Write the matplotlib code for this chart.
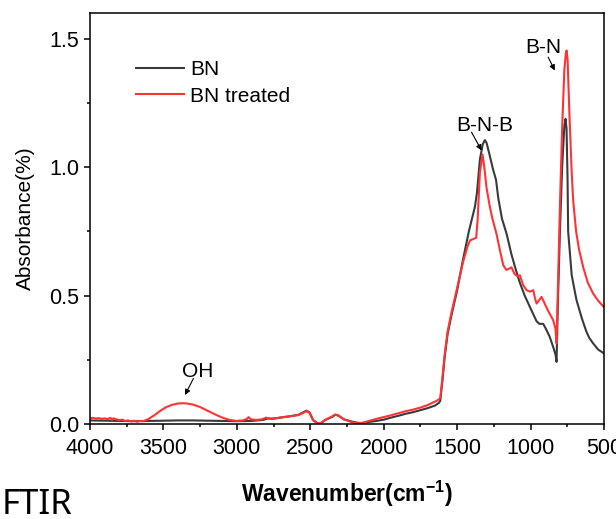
import matplotlib
matplotlib.use("Agg")
import matplotlib.pyplot as plt
from matplotlib.ticker import MultipleLocator

# ── FTIR spectra (wavenumber in cm-1, absorbance) ─────────────────────────────
wn_bn = [4000, 3900, 3800, 3700, 3600, 3500, 3400, 3300, 3200, 3100, 3000,
         2900, 2820, 2790, 2760, 2700, 2640, 2580, 2540, 2525, 2505, 2480,
         2450, 2430, 2400, 2350, 2330, 2310, 2270, 2220, 2180, 2150, 2100,
         2050, 2000, 1950, 1900, 1850, 1800, 1750, 1700, 1650, 1625, 1615,
         1600, 1585, 1565, 1540, 1500, 1460, 1420, 1390, 1379, 1365, 1345,
         1325, 1311, 1300, 1280, 1255, 1235, 1220, 1195, 1163, 1130, 1100,
         1073, 1040, 1000, 959, 940, 914, 895, 870, 846, 830, 823, 815, 800,
         785, 770, 762, 755, 748, 744, 720, 700, 687, 650, 620, 600, 574,
         540, 500]
abs_bn = [0.014, 0.013, 0.012, 0.011, 0.012, 0.013, 0.014, 0.014, 0.013,
          0.012, 0.011, 0.012, 0.016, 0.022, 0.020, 0.025, 0.030, 0.036,
          0.048, 0.052, 0.045, 0.015, 0.003, 0.002, 0.015, 0.028, 0.036,
          0.033, 0.018, 0.010, 0.005, 0.004, 0.008, 0.012, 0.017, 0.025,
          0.032, 0.040, 0.046, 0.054, 0.062, 0.072, 0.082, 0.090, 0.17,
          0.26, 0.35, 0.42, 0.52, 0.64, 0.75, 0.82, 0.845, 0.90, 1.03, 1.09,
          1.105, 1.095, 1.05, 0.99, 0.95, 0.88, 0.80, 0.74, 0.66, 0.60, 0.55,
          0.50, 0.45, 0.40, 0.39, 0.39, 0.37, 0.34, 0.30, 0.27, 0.242, 0.45,
          0.75, 1.00, 1.16, 1.188, 1.15, 0.95, 0.75, 0.58, 0.52, 0.482, 0.41,
          0.36, 0.335, 0.314, 0.29, 0.275]

wn_tr = [4000, 3980, 3960, 3940, 3920, 3900, 3880, 3860, 3850, 3840, 3820,
         3800, 3780, 3760, 3740, 3720, 3700, 3680, 3660, 3640, 3620, 3600,
         3560, 3520, 3480, 3440, 3400, 3370, 3340, 3300, 3250, 3200, 3150,
         3100, 3050, 3000, 2960, 2930, 2920, 2905, 2870, 2830, 2800, 2780,
         2740, 2700, 2640, 2580, 2540, 2525, 2505, 2480, 2450, 2430, 2400,
         2350, 2330, 2310, 2270, 2220, 2180, 2150, 2100, 2050, 2000, 1950,
         1900, 1850, 1800, 1750, 1700, 1660, 1640, 1625, 1615, 1600, 1585,
         1565, 1540, 1500, 1460, 1430, 1412, 1390, 1370, 1360, 1345, 1327,
         1315, 1300, 1277, 1260, 1232, 1210, 1186, 1165, 1145, 1130, 1110,
         1090, 1073, 1050, 1027, 1005, 982, 970, 959, 945, 925, 905, 880,
         846, 830, 823, 815, 800, 785, 770, 760, 755, 748, 735, 720, 710,
         690, 670, 642, 610, 574, 540, 500]
abs_tr = [0.022, 0.024, 0.021, 0.023, 0.020, 0.022, 0.019, 0.024, 0.016,
          0.022, 0.018, 0.015, 0.017, 0.012, 0.014, 0.010, 0.013, 0.009,
          0.012, 0.011, 0.015, 0.020, 0.035, 0.052, 0.066, 0.075, 0.080,
          0.081, 0.080, 0.076, 0.066, 0.052, 0.038, 0.025, 0.016, 0.012,
          0.014, 0.020, 0.027, 0.018, 0.016, 0.018, 0.025, 0.021, 0.022,
          0.026, 0.030, 0.035, 0.046, 0.050, 0.043, 0.014, 0.003, 0.002,
          0.016, 0.030, 0.037, 0.034, 0.018, 0.008, 0.003, 0.004, 0.012,
          0.020, 0.027, 0.034, 0.042, 0.050, 0.056, 0.064, 0.074, 0.085,
          0.090, 0.096, 0.100, 0.18, 0.27, 0.36, 0.43, 0.53, 0.63, 0.69,
          0.715, 0.72, 0.725, 0.80, 0.98, 1.049, 1.00, 0.92, 0.845, 0.80,
          0.74, 0.68, 0.618, 0.60, 0.605, 0.61, 0.585, 0.575, 0.579, 0.54,
          0.521, 0.515, 0.521, 0.49, 0.469, 0.48, 0.495, 0.47, 0.44, 0.404,
          0.37, 0.314, 0.50, 0.85, 1.15, 1.38, 1.44, 1.454, 1.42, 1.20, 0.98,
          0.871, 0.75, 0.68, 0.611, 0.55, 0.508, 0.48, 0.455]

series_labels = ["BN", "BN treated"]

# peak labels: text, text centre, arrow tail, arrow tip
peak_notes = [
    ("OH", (3265, 0.203), (3296, 0.177), (3353, 0.113)),
    ("B-N-B", (1311, 1.162), (1402, 1.136), (1334, 1.065)),
    ("B-N", (910, 1.466), (880, 1.428), (835, 1.376)),
]

plt.rcParams['font.family'] = ['Liberation Sans', 'DejaVu Sans']
plt.rcParams['mathtext.fontset'] = 'custom'
plt.rcParams['mathtext.rm'] = 'Liberation Sans'
plt.rcParams['mathtext.bf'] = 'Liberation Sans:bold'

fig = plt.figure(figsize=(6.16, 5.19), dpi=100)
ax = fig.add_axes([0.1461, 0.1830, 0.8344, 0.7920])

ax.plot(wn_bn, abs_bn, color='#3a3a3a', lw=1.5, label=series_labels[0])
ax.plot(wn_tr, abs_tr, color='#ff3333', lw=1.5, label=series_labels[1])

ax.set_xlim(4000, 500)
ax.set_ylim(0, 1.6)
ax.xaxis.set_major_locator(MultipleLocator(500))
ax.xaxis.set_minor_locator(MultipleLocator(250))
ax.yaxis.set_major_locator(MultipleLocator(0.5))
ax.yaxis.set_minor_locator(MultipleLocator(0.25))
ax.yaxis.set_major_formatter(lambda v, p: f"{v:.1f}")

for side in ax.spines.values():
    side.set_linewidth(1.1)
ax.tick_params(which='both', direction='out', width=1.1, labelsize=15.5,
               top=False, right=False)
ax.tick_params(which='major', length=4)
ax.tick_params(which='minor', length=2.5)
ax.tick_params(axis='x', pad=6)

ax.set_xlabel(r"Wavenumber(cm$^{\mathbf{-1}}$)", fontsize=16.5, fontweight='bold',
              labelpad=14)
ax.set_ylabel("Absorbance(%)", fontsize=15, labelpad=10)

for txt, pos, tail, tip in peak_notes:
    ax.text(pos[0], pos[1], txt, fontsize=15, ha='center', va='center')
    ax.annotate('', xy=tip, xytext=tail,
                arrowprops=dict(arrowstyle='-|>', color='black', lw=0.8,
                                mutation_scale=8, shrinkA=0, shrinkB=0))

ax.legend(loc='upper left', bbox_to_anchor=(0.0895, 0.885), frameon=False,
          fontsize=15, handlelength=2.3, handletextpad=0.3, labelspacing=0.35,
          borderpad=0, borderaxespad=0)

fig.text(0.003, 0.009, "FTIR", fontsize=25, family=['Noto Sans', 'DejaVu Sans'],
         ha='left', va='baseline')

fig.savefig("out.png", dpi=100)
